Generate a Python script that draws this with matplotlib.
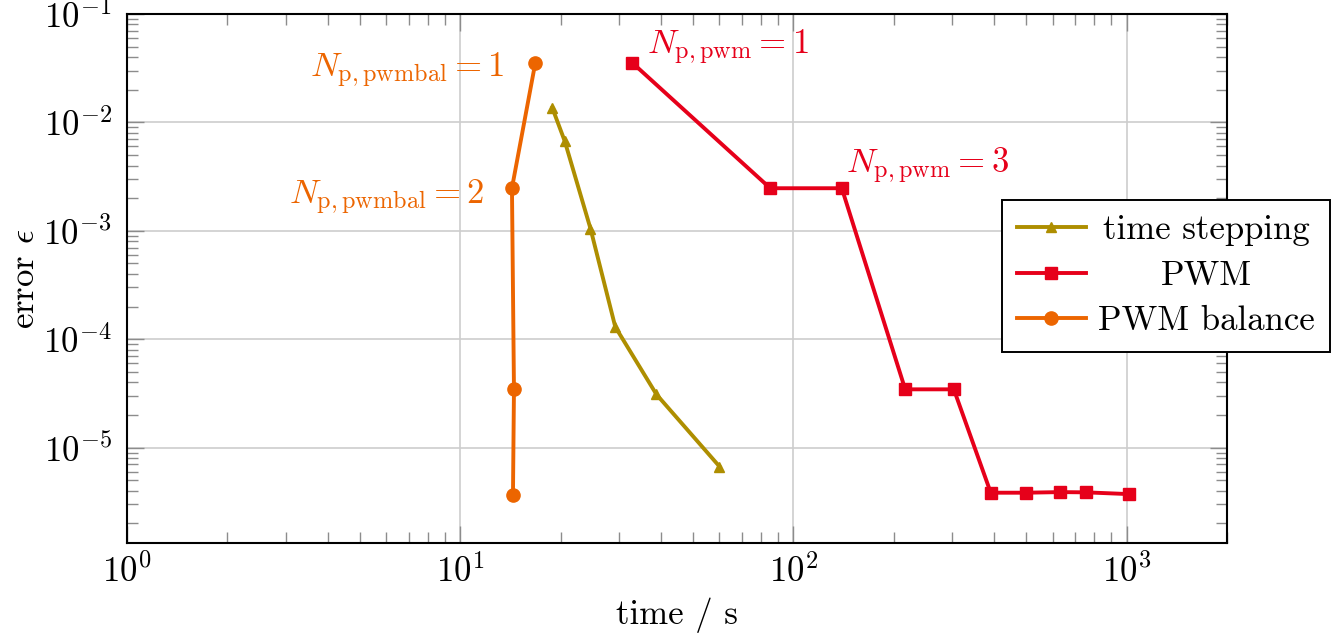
import matplotlib
matplotlib.use('Agg')
import matplotlib.pyplot as plt
from matplotlib.ticker import LogLocator, NullFormatter

plt.rcParams['font.family'] = 'serif'
plt.rcParams['font.serif'] = ['cmr10']
plt.rcParams['mathtext.fontset'] = 'cm'
plt.rcParams['axes.formatter.use_mathtext'] = True

# values (time in s, error)
ts_time = [18.9, 20.6, 24.6, 29.2, 38.8, 60.0]
ts_err = [1.36e-2, 6.7e-3, 1.05e-3, 1.30e-4, 3.10e-5, 6.7e-6]

pwm_time = [32.8, 85.2, 139.7, 216.5, 303, 391, 499, 632, 754, 1013]
pwm_err = [3.56e-2, 2.47e-3, 2.47e-3, 3.45e-5, 3.45e-5,
           3.84e-6, 3.84e-6, 3.89e-6, 3.87e-6, 3.73e-6]

bal_time = [16.8, 14.3, 14.5, 14.4]
bal_err = [3.53e-2, 2.48e-3, 3.45e-5, 3.67e-6]

series_names = ['time stepping', 'PWM', 'PWM balance']

c_ts = '#AE8E00'
c_pwm = '#E6001A'
c_bal = '#EC6500'

fig = plt.figure(figsize=(13.38, 6.41), dpi=100)
ax = fig.add_axes([0.0949, 0.1529, 0.8221, 0.8253])

ax.plot(ts_time, ts_err, color=c_ts, lw=2.8, marker='^', ms=7.5, label=series_names[0])
ax.plot(pwm_time, pwm_err, color=c_pwm, lw=2.8, marker='s', ms=9, label=series_names[1])
ax.plot(bal_time, bal_err, color=c_bal, lw=2.8, marker='o', ms=9.5, label=series_names[2])

ax.set_xscale('log')
ax.set_yscale('log')
ax.set_xlim(1, 2000)
ax.set_ylim(1.32e-6, 0.1)

ax.xaxis.set_major_locator(LogLocator(base=10))
ax.yaxis.set_major_locator(LogLocator(base=10))
ax.xaxis.set_minor_locator(LogLocator(base=10, subs=range(2, 10)))
ax.yaxis.set_minor_locator(LogLocator(base=10, subs=range(2, 10)))
ax.xaxis.set_minor_formatter(NullFormatter())
ax.yaxis.set_minor_formatter(NullFormatter())

ax.tick_params(which='both', direction='in', top=True, right=True,
               color='#8c8c8c', width=1, labelsize=25)
ax.tick_params(which='major', length=12)
ax.tick_params(which='minor', length=8)
ax.tick_params(axis='x', pad=8)
ax.tick_params(axis='y', pad=11)

ax.grid(True, which='major', color='#cdcdcd', lw=1.2)
ax.set_axisbelow(True)
for s in ax.spines.values():
    s.set_linewidth(1.5)

ax.set_xlabel('time / s', fontsize=25, labelpad=6)
ax.set_ylabel(r'error $\epsilon$', fontsize=25)
ax.yaxis.set_label_coords(-0.078, 0.5)

# point labels next to the first points of each sweep
ann = [
    (bal_time[0], bal_err[0], r'$N_{\mathrm{p,pwmbal}}=1$', c_bal, 'right', (-31, -14)),
    (bal_time[1], bal_err[1], r'$N_{\mathrm{p,pwmbal}}=2$', c_bal, 'right', (-28, -16)),
    (pwm_time[0], pwm_err[0], r'$N_{\mathrm{p,pwm}}=1$', c_pwm, 'left', (15, 9)),
    (pwm_time[2], pwm_err[2], r'$N_{\mathrm{p,pwm}}=3$', c_pwm, 'left', (4, 15)),
]
for x, y, txt, col, ha, off in ann:
    ax.annotate(txt, xy=(x, y), xytext=off, textcoords='offset pixels',
                ha=ha, va='baseline', color=col, fontsize=25)

leg = ax.legend(loc='upper left', bbox_to_anchor=(1002 / 1338, 1 - 200 / 641),
                bbox_transform=fig.transFigure, fontsize=25, frameon=True,
                fancybox=False, framealpha=1, edgecolor='black', numpoints=1,
                handlelength=2.0, handletextpad=0.35, borderpad=0.42,
                labelspacing=0.4, borderaxespad=0)
leg.get_frame().set_linewidth(1.4)

# center the legend texts like pgfplots does
fig.canvas.draw()
texts = leg.get_texts()
widths = [t.get_window_extent().width for t in texts]
for t, w in zip(texts, widths):
    t.set_x((max(widths) - w) / 2)

fig.savefig('out.png', dpi=100)
